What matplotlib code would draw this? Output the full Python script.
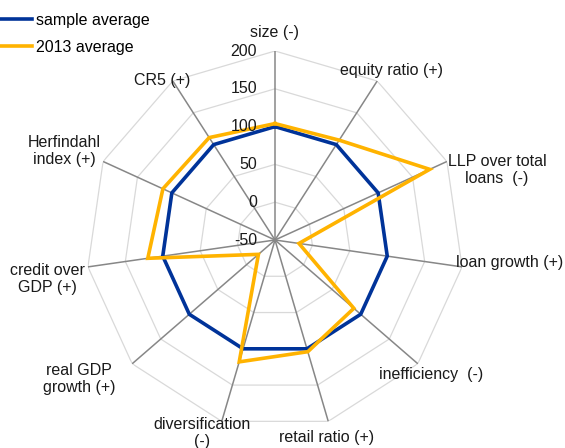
import numpy as np
import matplotlib
matplotlib.use("Agg")
import matplotlib.pyplot as plt
from matplotlib.transforms import offset_copy

plt.rcParams['font.family'] = ['Liberation Sans', 'DejaVu Sans']

categories = ['size (-)', 'equity ratio (+)', 'LLP over total\nloans  (-)', 'loan growth (+)',
              'inefficiency  (-)', 'retail ratio (+)', 'diversification\n(-)', 'real GDP\ngrowth (+)',
              'credit over\nGDP (+)', 'Herfindahl\nindex (+)', 'CR5 (+)']
sample_average = [100, 100, 100, 100, 100, 100, 100, 100, 100, 100, 100]
avg_2013 = [104, 107, 175, -18, 88, 104, 118, -21, 120, 113, 111]
r_ticks = [-50, 0, 50, 100, 150, 200]
r_tick_labels = ['-50', '0', '50', '100', '150', '200']

W, H = 565, 448
fig = plt.figure(figsize=(W / 100, H / 100), dpi=100)
cx, cy, R = 275, 240, 189
ax = fig.add_axes([(cx - R) / W, (H - cy - R) / H, 2 * R / W, 2 * R / H], projection='polar')
ax.set_theta_offset(np.pi / 2)
ax.set_theta_direction(-1)
ax.set_ylim(-50, 200)
ax.grid(False)
ax.spines['polar'].set_visible(False)
ax.set_xticks([])
ax.set_yticks([])
ax.patch.set_alpha(0)

n = len(categories)
theta = np.linspace(0, 2 * np.pi, n, endpoint=False)
theta_c = np.append(theta, theta[0])

# polygon grid
for rv in r_ticks[1:]:
    ax.plot(theta_c, [rv] * (n + 1), color='#d9d9d9', lw=0.9, zorder=1)
# spokes
for t in theta:
    ax.plot([t, t], [-50, 200], color='#878787', lw=1.1, zorder=2)

ax.plot(theta_c, sample_average + sample_average[:1], color='#003399', lw=2.6, zorder=3,
        label='sample average', solid_joinstyle='miter')
ax.plot(theta_c, avg_2013 + avg_2013[:1], color='#FFB300', lw=2.6, zorder=4,
        label='2013 average', solid_joinstyle='miter')

# radial tick labels
tr = offset_copy(ax.transData, fig=fig, x=-18, y=0, units='dots')
for rv, lab in zip(r_ticks, r_tick_labels):
    ax.text(0, rv, lab, transform=tr, ha='right', va='center', fontsize=11.5, color='#1a1a1a', zorder=5)

# category labels (pixel centres)
label_pos = [(274, 33), (391, 70), (497, 170), (510, 263), (431, 374), (327, 437),
             (202, 433), (79, 379), (47, 279), (64, 151), (162, 80)]
for lab, (px, py) in zip(categories, label_pos):
    fig.text(px / W, 1 - py / H, lab, ha='center', va='center', fontsize=11.5,
             color='#1a1a1a', linespacing=1.2)

fig.legend(loc='upper left', bbox_to_anchor=(0, 1 - 13 / H), frameon=False, fontsize=11.5,
           borderpad=0, borderaxespad=0, handlelength=2.0, handletextpad=0.25, labelspacing=0.75)

fig.savefig('out.png', dpi=100)
